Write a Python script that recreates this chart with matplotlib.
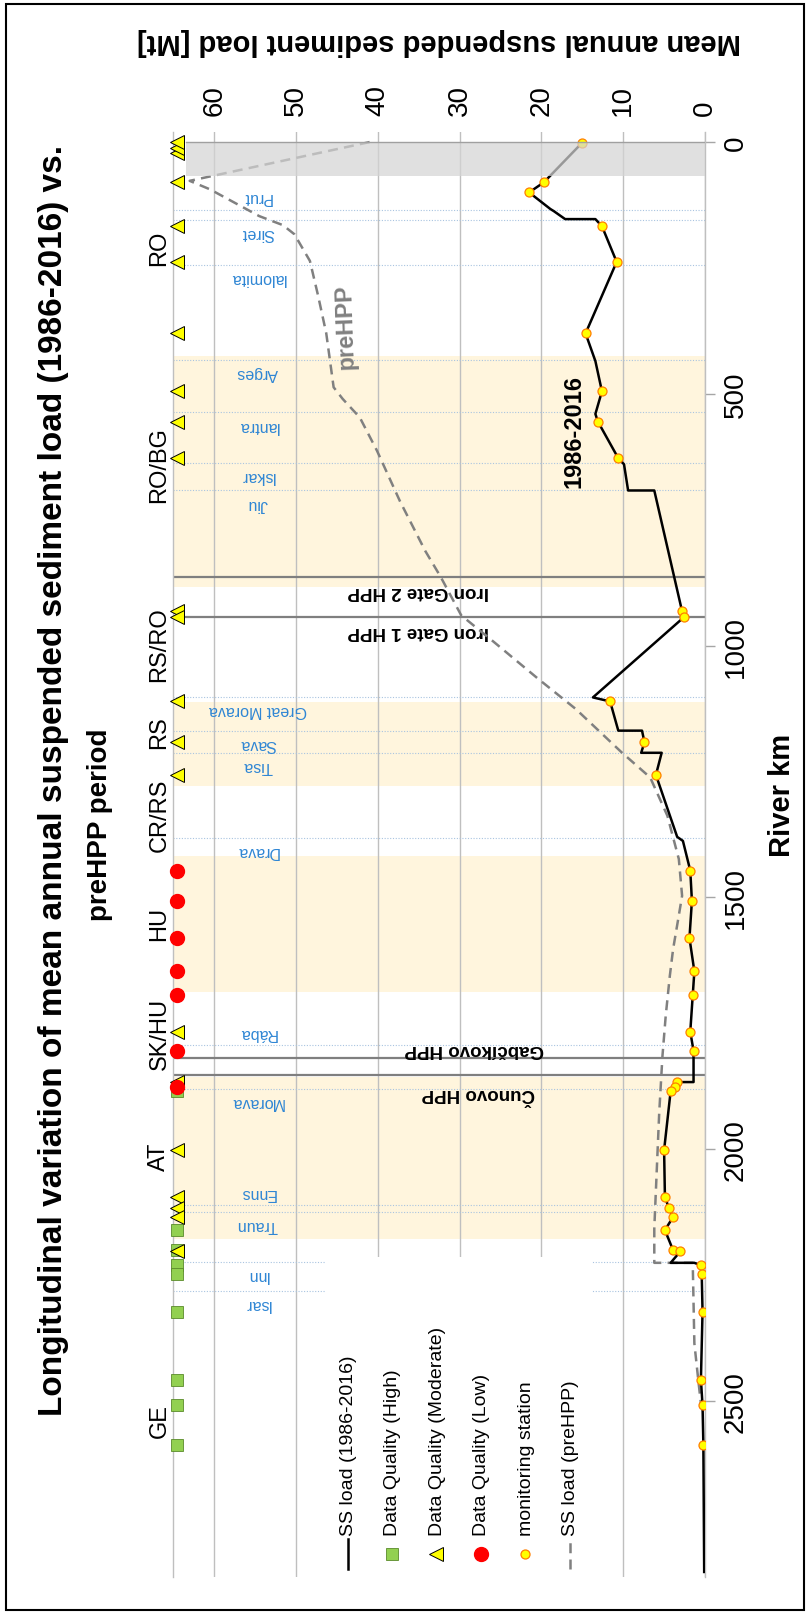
import matplotlib
matplotlib.use("Agg")
import matplotlib.pyplot as plt
from matplotlib.patches import Rectangle

plt.rcParams["font.family"] = ["Liberation Sans", "DejaVu Sans"]

# --- data -------------------------------------------------------------
# suspended sediment load 1986-2016 along the Danube (river km, Mt/yr)
ss_km = [1, 80, 100, 133, 137, 153, 153, 167, 238, 380, 435, 495, 540, 555,
         628, 640, 692, 692, 932, 944, 1103, 1111, 1169, 1169, 1192, 1213,
         1213, 1257, 1380, 1388, 1447, 1507, 1581, 1647, 1695, 1767, 1805,
         1867, 1867, 1876, 1885, 2002, 2095, 2118, 2135, 2161, 2201, 2203,
         2226, 2226, 2231, 2249, 2323, 2458, 2509, 2587, 2840]
ss_load = [15.0, 19.7, 21.5, 18.9, 18.5, 17.1, 13.4, 12.6, 10.8, 14.6, 13.4,
           12.6, 13.4, 13.1, 10.6, 9.9, 9.4, 6.2, 2.8, 2.6, 13.7, 11.6, 10.6,
           7.7, 7.4, 7.8, 5.3, 6.0, 3.4, 2.7, 1.8, 1.6, 1.9, 1.3, 1.5, 1.8,
           1.4, 1.4, 3.4, 3.7, 4.2, 5.0, 4.9, 4.4, 3.9, 4.9, 3.9, 3.0, 4.2,
           1.3, 0.5, 0.4, 0.3, 0.5, 0.3, 0.2, 0.1]

# suspended sediment load before the hydropower plants
pre_km = [0, 77, 94, 147, 165, 183, 236, 305, 380, 487, 510, 547, 613, 713,
          812, 864, 940, 993, 1066, 1126, 1212, 1262, 1338, 1424, 1497, 1536,
          1603, 1656, 1735, 1815, 1929, 2043, 2158, 2226, 2226, 2386, 2462,
          2505]
pre_load = [41.0, 63.0, 60.5, 54.5, 51.6, 50.2, 48.3, 47.3, 46.3, 45.4, 44.3,
            42.2, 40.1, 37.3, 34.2, 32.3, 29.8, 25.8, 20.4, 15.8, 10.2, 6.7,
            4.6, 3.2, 2.8, 3.2, 3.9, 4.3, 4.8, 5.2, 5.6, 5.9, 6.2, 6.2, 1.5,
            1.3, 0.8, 0.5]

# monitoring stations
station_km = [1, 80, 100, 167, 238, 380, 495, 555, 628, 932, 944, 1111, 1192,
              1257, 1447, 1507, 1581, 1647, 1695, 1767, 1805, 1867, 1876, 1885,
              2002, 2095, 2118, 2135, 2161, 2201, 2203, 2231, 2249, 2323, 2458,
              2509, 2587]
station_load = [15.0, 19.7, 21.5, 12.6, 10.8, 14.6, 12.6, 13.1, 10.6, 2.8,
                2.6, 11.6, 7.4, 6.0, 1.8, 1.6, 1.9, 1.3, 1.5, 1.8, 1.4, 3.4,
                3.7, 4.2, 5.0, 4.9, 4.4, 3.9, 4.9, 3.9, 3.0, 0.5, 0.4, 0.3,
                0.5, 0.3, 0.2]

# data quality of the station records
quality_high_km = [1885, 2161, 2201, 2231, 2249, 2323, 2458, 2509, 2587]
quality_moderate_km = [22, 11, 0, 80, 167, 238, 380, 495, 555, 628, 932, 944,
                       1111, 1192, 1257, 1767, 1867, 2002, 2095, 2118, 2135,
                       2203]
quality_low_km = [1447, 1507, 1581, 1647, 1695, 1805, 1876]

# tributaries: name, confluence km, label side (+1 downstream of line, -1 upstream)
tributary_names = ["Prut", "Siret", "Ialomita", "Arges", "Iantra", "Iskar",
                   "Jiu", "Great Morava", "Sava", "Tisa", "Drava", "Rába",
                   "Morava", "Enns", "Traun", "Inn", "Isar"]
tributary_km = [134, 155, 244, 432, 537, 637, 692, 1103, 1170, 1214, 1382,
                1794, 1880, 2112, 2125, 2224, 2281]
tributary_side = [-1, 1, 1, 1, 1, 1, 1, 1, 1, 1, 1, -1, 1, -1, 1, 1, 1]

# hydropower plants
hpp_names = ["Iron Gate 2 HPP", "Iron Gate 1 HPP", "Gabčíkovo HPP", "Čunovo HPP"]
hpp_km = [863, 943, 1819, 1852]
hpp_label_shift = [27, 27, -18, 35]
hpp_label_x = [35, 35, 28.2, 27.7]

# countries along the river
country_names = ["RO", "RO/BG", "RS/RO", "RS", "CR/RS", "HU", "SK/HU", "AT", "GE"]
country_km = [210, 640, 997, 1171, 1336, 1551, 1769, 2014, 2538]

# shaded reaches (km ranges)
band_start = [424, 1113, 1417, 1857]
band_end = [884, 1279, 1689, 2178]
delta_end = 68

# --- figure -----------------------------------------------------------
W, H = 809, 1615
fig = plt.figure(figsize=(W / 100, H / 100), dpi=100)
fig.patch.set_facecolor("white")
ax = fig.add_axes([173.3 / W, 1 - 1578 / H, (705 - 173.3) / W, (1578 - 133) / H])
ax.set_xlim(65, 0)
ax.set_ylim(2850, -20)

for s, e in zip(band_start, band_end):
    ax.axhspan(s, e, color="#FFF5DD", lw=0, zorder=0.2)

ax.set_axisbelow(True)
ax.grid(axis="x", color="#BFBFBF", lw=1)
ax.grid(axis="y", visible=False)

for km in tributary_km:
    ax.axhline(km, color="#A9C4E0", lw=0.8, ls=(0, (1, 1.5)), zorder=0.6)

blue = "#2F86D4"
for name, km, side in zip(tributary_names, tributary_km, tributary_side):
    ax.text(54.7, km + 25 * side, name, rotation=180, ha="center",
            va="center", fontsize=11.5, color=blue, zorder=2)

for name, km, dk, lx in zip(hpp_names, hpp_km, hpp_label_shift, hpp_label_x):
    ax.axhline(km, color="#7F7F7F", lw=1.6, zorder=2)
    ax.text(lx, km + dk, name, rotation=180, ha="center", va="center",
            fontsize=13.5, fontweight="bold", zorder=2)

for name, km in zip(country_names, country_km):
    ax.text(66.7, km, name, rotation=90, ha="center", va="center",
            fontsize=17, clip_on=False)

# series
ax.plot(pre_load, pre_km, color="#808080", lw=1.8, ls=(0, (4, 2.5)), zorder=4)
ax.plot(ss_load, ss_km, color="black", lw=1.8, zorder=5)
ax.plot(station_load, station_km, ls="none", marker="o", ms=6.5,
        mfc="#FFFF00", mec="#FF7F00", mew=0.9, zorder=6)

q_x = 64.5
ax.plot([q_x] * len(quality_high_km), quality_high_km, ls="none", marker="s",
        ms=9, mfc="#92D050", mec="#5A8A2A", mew=0.6, zorder=6, clip_on=False)
ax.plot([q_x] * len(quality_moderate_km), quality_moderate_km, ls="none",
        marker="<", ms=10, mfc="#FFFF00", mec="black", mew=0.7, zorder=6,
        clip_on=False)
ax.plot([q_x] * len(quality_low_km), quality_low_km, ls="none", marker="o",
        ms=10, mfc="#FF0000", mec="#FF0000", zorder=6, clip_on=False)

# delta reach, greyed out
ax.add_patch(Rectangle((0, 0), 63.4, delta_end, facecolor="#D4D4D4",
                       alpha=0.72, lw=0, zorder=7))
ax.plot([63.4, 0], [0, 0], color="#A0A0A0", lw=1, zorder=7)

ax.text(44.0, 364, "preHPP", rotation=92, ha="center", va="center",
        fontsize=17, fontweight="bold", color="#808080", zorder=8)
ax.text(16.0, 573, "1986-2016", rotation=90, ha="center", va="center",
        fontsize=17, fontweight="bold", zorder=8)

# axes styling
for side in ["top", "bottom"]:
    ax.spines[side].set_visible(False)
for side in ["left", "right"]:
    ax.spines[side].set_color("#BFBFBF")
    ax.spines[side].set_linewidth(1)

ax.xaxis.tick_top()
ax.set_xticks(range(0, 61, 10))
ax.tick_params(axis="x", length=0, pad=12, labelsize=20, labelrotation=90)
ax.yaxis.tick_right()
ax.set_yticks(range(0, 2501, 500))
ax.tick_params(axis="y", length=7, width=1, color="#A6A6A6", pad=6,
               labelsize=20, labelrotation=90)
for lab in ax.get_yticklabels():
    lab.set_va("center")

# legend drawn as a column block along the bottom of the plot
ax.add_patch(Rectangle((0.2864, 0), 0.5003, 0.2215, transform=ax.transAxes,
                       facecolor="white", lw=0, zorder=3))
legend_labels = ["SS load (1986-2016)", "Data Quality (High)",
                 "Data Quality (Moderate)", "Data Quality (Low)",
                 "monitoring station", "SS load (preHPP)"]
lx0, ldx = 0.3297, 0.0835
for i, text in enumerate(legend_labels):
    x = lx0 + i * ldx
    ax.text(x, 0.029, text, rotation=90, ha="center", va="bottom",
            fontsize=14, transform=ax.transAxes, zorder=3.5)
hx = [lx0 + i * ldx - 0.002 for i in range(6)]
hy = 0.0159
ax.plot([hx[0], hx[0]], [0.0055, 0.0263], color="black", lw=1.8,
        transform=ax.transAxes, zorder=3.5)
ax.plot([hx[1]], [hy], marker="s", ms=9, mfc="#92D050", mec="#5A8A2A",
        mew=0.6, transform=ax.transAxes, zorder=3.5)
ax.plot([hx[2]], [hy], marker="<", ms=10, mfc="#FFFF00", mec="black",
        mew=0.7, transform=ax.transAxes, zorder=3.5)
ax.plot([hx[3]], [hy], marker="o", ms=10, mfc="#FF0000", mec="#FF0000",
        transform=ax.transAxes, zorder=3.5)
ax.plot([hx[4]], [hy], marker="o", ms=6.5, mfc="#FFFF00", mec="#FF7F00",
        mew=0.9, transform=ax.transAxes, zorder=3.5)
ax.plot([hx[5], hx[5]], [0.0055, 0.0263], color="#808080", lw=1.8,
        ls=(0, (4, 2.5)), transform=ax.transAxes, zorder=3.5)

# titles and axis labels
fig.text(54 / W, 1 - 780 / H,
         "Longitudinal variation of mean annual suspended sediment load (1986-2016) vs.",
         rotation=90, ha="center", va="center", fontsize=24, fontweight="bold")
fig.text(100 / W, 1 - 825 / H, "preHPP period",
         rotation=90, ha="center", va="center", fontsize=20, fontweight="bold")
fig.text(439 / W, 1 - 42 / H, "Mean annual suspended sediment load [Mt]",
         rotation=180, ha="center", va="center", fontsize=21,
         fontweight="bold")
fig.text(782 / W, 1 - 795 / H, "River km", rotation=90, ha="center",
         va="center", fontsize=21, fontweight="bold")

fig.patches.append(Rectangle((6 / W, 1 - 1611 / H), 798 / W, 1606 / H,
                             transform=fig.transFigure, fill=False,
                             ec="black", lw=1.5))

fig.savefig("out.png", dpi=100, facecolor="white")
